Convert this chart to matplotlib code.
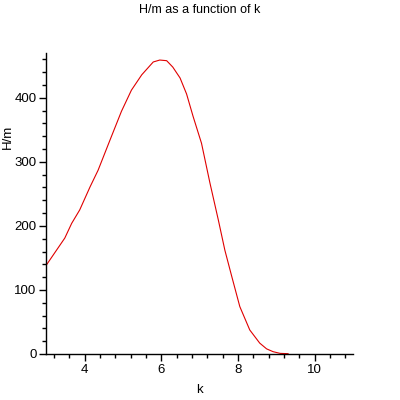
import matplotlib

matplotlib.use("Agg")
import matplotlib.pyplot as plt
from matplotlib.ticker import MultipleLocator

# values
k = [3.0, 3.24, 3.48, 3.66, 3.87, 4.14, 4.35, 4.66, 4.96, 5.22, 5.49, 5.79,
     5.96, 6.14, 6.3, 6.49, 6.66, 6.83, 7.05, 7.27, 7.49, 7.66, 7.84, 8.05,
     8.31, 8.57, 8.75, 8.92, 9.1, 9.31]
h_over_m = [139, 160, 181, 204, 225, 261, 287, 334, 379, 412, 436, 456,
            459, 458, 448, 431, 406, 371, 329, 267, 209, 162, 121, 74,
            37.5, 17, 8, 3.6, 1, 0.5]

plt.rcParams["font.family"] = ["Liberation Sans", "DejaVu Sans"]

fig = plt.figure(figsize=(4, 4), dpi=100)
ax = fig.add_axes([0.116, 0.115, 0.766, 0.7525])
ax.plot(k, h_over_m, color="#e00000", linewidth=0.8)

ax.set_xlim(3, 11)
ax.set_ylim(0, 470)
ax.xaxis.set_major_locator(MultipleLocator(2))
ax.xaxis.set_minor_locator(MultipleLocator(0.4))
ax.yaxis.set_major_locator(MultipleLocator(100))
ax.yaxis.set_minor_locator(MultipleLocator(20))
ax.spines["top"].set_visible(False)
ax.spines["right"].set_visible(False)
for side in ("left", "bottom"):
    ax.spines[side].set_linewidth(1.0)
ax.tick_params(which="major", length=5, width=1, labelsize=9.5, pad=2)
ax.tick_params(which="minor", length=3, width=1)

ax.set_xlabel("k", fontsize=9.5, labelpad=6)
ax.set_ylabel("H/m", fontsize=9.5)
ax.yaxis.set_label_coords(-0.105, 0.72)
fig.text(0.5, 0.975, "H/m as a function of k", ha="center", va="center", fontsize=9)

fig.savefig("out.png")
